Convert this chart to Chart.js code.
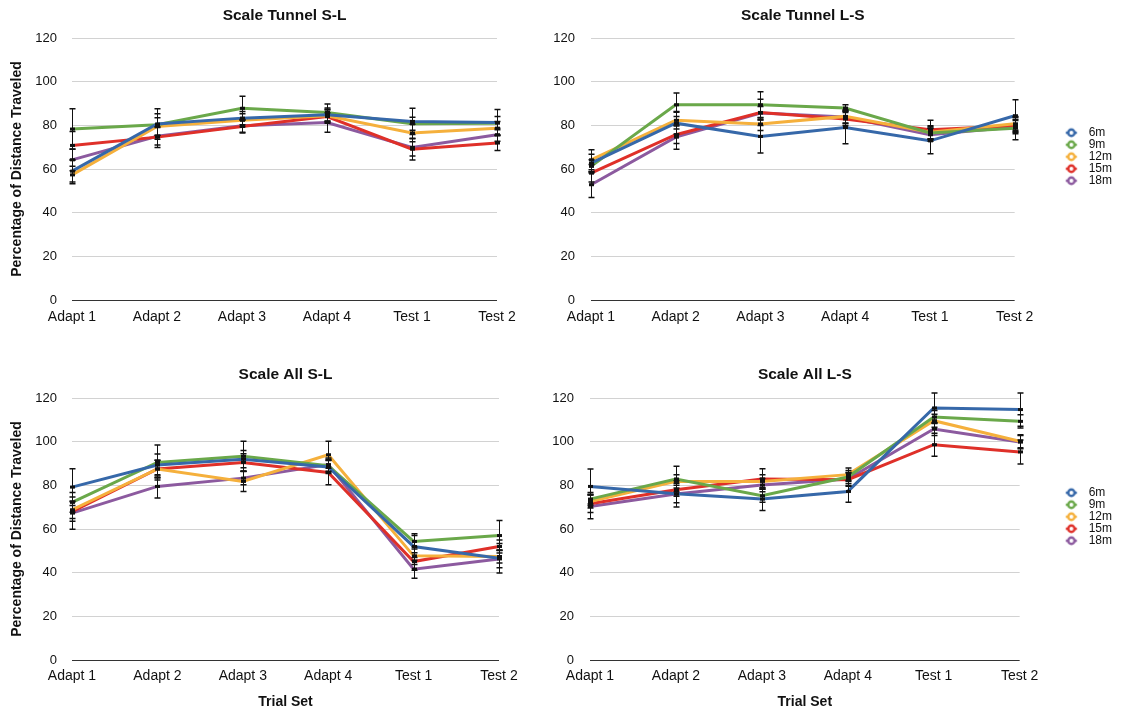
<!DOCTYPE html>
<html>
<head>
<meta charset="utf-8">
<script src="https://cdn.jsdelivr.net/npm/chart.js@4/dist/chart.umd.min.js"></script>
<style>
  html, body { margin: 0; padding: 0; background: #fff; }
  #wrap { position: relative; width: 1124px; height: 711px; overflow: hidden; background: #fff; }
  #wrap canvas { position: absolute; }
</style>
</head>
<body>
<div id="wrap">
  <canvas id="tunnelSL" width="540" height="350" style="left:0;top:0"></canvas>
  <canvas id="tunnelLS" width="584" height="350" style="left:540px;top:0"></canvas>
  <canvas id="allSL" width="540" height="361" style="left:0;top:350px"></canvas>
  <canvas id="allLS" width="584" height="361" style="left:540px;top:350px"></canvas>
</div>
<script>
// Categories and series
const trialSets = ['Adapt 1', 'Adapt 2', 'Adapt 3', 'Adapt 4', 'Test 1', 'Test 2'];
const distances = ['6m', '9m', '12m', '15m', '18m'];
const yTickValues = [0, 20, 40, 60, 80, 100, 120];
const seriesColors = ['#3668a9', '#6aa84a', '#f5b03c', '#df3029', '#8c5a9f'];

// Scale Tunnel S-L: means and error (±)
const tunnelSL_6m  = [59.0, 80.6, 83.3, 84.9, 81.8, 81.3];
const tunnelSL_9m  = [78.3, 80.3, 87.8, 85.9, 80.7, 81.0];
const tunnelSL_12m = [57.3, 79.5, 82.3, 84.4, 76.5, 78.7];
const tunnelSL_15m = [70.8, 74.6, 79.5, 84.0, 69.1, 71.9];
const tunnelSL_18m = [64.2, 75.0, 79.8, 81.3, 69.9, 75.7];
const tunnelSL_6m_err  = [5.0, 7.0, 3.0, 3.0, 6.0, 6.0];
const tunnelSL_9m_err  = [9.3, 5.0, 5.5, 3.9, 3.0, 3.0];
const tunnelSL_12m_err = [4.0, 4.0, 3.0, 3.0, 4.0, 3.0];
const tunnelSL_15m_err = [6.4, 4.7, 3.0, 3.0, 5.0, 3.4];
const tunnelSL_18m_err = [5.0, 4.0, 3.0, 4.5, 4.0, 3.0];

// Scale Tunnel L-S
const tunnelLS_6m  = [62.7, 81.0, 74.9, 79.0, 72.9, 84.4];
const tunnelLS_9m  = [61.2, 89.4, 89.4, 87.9, 76.5, 78.7];
const tunnelLS_12m = [64.2, 82.3, 80.6, 84.1, 76.8, 80.7];
const tunnelLS_15m = [58.1, 75.7, 85.9, 82.9, 78.0, 79.8];
const tunnelLS_18m = [52.8, 74.6, 85.6, 83.8, 75.7, 79.2];
const tunnelLS_6m_err  = [4.0, 5.0, 7.6, 7.4, 5.9, 7.3];
const tunnelLS_9m_err  = [3.0, 5.4, 6.0, 1.5, 3.0, 5.3];
const tunnelLS_12m_err = [4.6, 4.0, 3.0, 3.0, 3.0, 3.0];
const tunnelLS_15m_err = [4.0, 4.0, 6.0, 3.0, 4.3, 3.0];
const tunnelLS_18m_err = [5.9, 5.5, 3.0, 3.0, 3.0, 3.0];

// Scale All S-L
const allSL_6m  = [79.2, 89.3, 92.0, 88.4, 52.0, 46.6];
const allSL_9m  = [72.2, 90.5, 93.3, 89.0, 54.3, 57.0];
const allSL_12m = [68.8, 87.5, 81.8, 94.0, 47.7, 47.4];
const allSL_15m = [68.0, 87.5, 90.5, 85.9, 45.1, 52.0];
const allSL_18m = [67.3, 79.5, 83.3, 89.5, 41.6, 46.3];
const allSL_6m_err  = [8.4, 5.0, 4.0, 3.0, 5.0, 6.8];
const allSL_9m_err  = [4.5, 8.0, 6.9, 3.0, 3.5, 6.9];
const allSL_12m_err = [4.0, 4.0, 4.6, 6.2, 4.0, 3.0];
const allSL_15m_err = [4.5, 4.0, 4.0, 5.6, 4.0, 3.0];
const allSL_18m_err = [7.4, 5.3, 3.0, 3.0, 4.1, 4.0];

// Scale All L-S
const allLS_6m  = [79.5, 76.1, 73.7, 77.2, 115.4, 114.7];
const allLS_9m  = [73.7, 82.9, 75.2, 83.8, 111.3, 109.3];
const allLS_12m = [72.6, 81.8, 81.8, 84.9, 109.6, 100.2];
const allLS_15m = [71.6, 78.0, 82.9, 82.6, 98.6, 95.3];
const allLS_18m = [70.3, 76.0, 80.1, 82.9, 105.8, 99.8];
const allLS_6m_err  = [8.0, 6.0, 5.2, 5.0, 6.9, 7.6];
const allLS_9m_err  = [3.0, 5.8, 3.0, 3.0, 3.0, 3.0];
const allLS_12m_err = [3.0, 3.0, 3.0, 3.0, 3.0, 3.0];
const allLS_15m_err = [4.0, 3.0, 4.7, 3.0, 5.3, 5.5];
const allLS_18m_err = [5.6, 4.0, 3.0, 3.0, 3.0, 3.0];

const FONT = "'Liberation Sans', Arial, Helvetica, sans-serif";
const INK = '#111';

// Vertical error bars with caps and a small mark at each mean
const errorBarsPlugin = {
  id: 'errorBars',
  afterDatasetsDraw(chart) {
    const { ctx, scales: { x, y } } = chart;
    ctx.save();
    ctx.strokeStyle = INK;
    ctx.fillStyle = INK;
    chart.data.datasets.forEach(ds => {
      ds.data.forEach((v, i) => {
        const e = ds.errors[i];
        const px = Math.round(x.getPixelForValue(i)) + 0.5;
        const top = y.getPixelForValue(v + e);
        const bot = y.getPixelForValue(v - e);
        const mid = y.getPixelForValue(v);
        ctx.lineWidth = 1;
        ctx.beginPath();
        ctx.moveTo(px, top); ctx.lineTo(px, bot);
        ctx.stroke();
        ctx.lineWidth = 1.5;
        ctx.beginPath();
        ctx.moveTo(px - 3, top); ctx.lineTo(px + 3, top);
        ctx.moveTo(px - 3, bot); ctx.lineTo(px + 3, bot);
        ctx.stroke();
        ctx.fillRect(px - 2.5, mid - 1.5, 5, 3);
      });
    });
    ctx.restore();
  }
};

// Legend swatch: short line with a hollow ring, placed at ringX inside a box of width boxW
function legendMarker(color, boxW, ringX) {
  const c = document.createElement('canvas');
  c.width = boxW; c.height = 12;
  const g = c.getContext('2d');
  g.strokeStyle = color;
  g.lineWidth = 2.4;
  g.beginPath();
  g.moveTo(ringX - 5.5, 6); g.lineTo(ringX + 5.5, 6);
  g.stroke();
  g.fillStyle = '#fff';
  g.beginPath();
  g.arc(ringX, 6, 3.2, 0, Math.PI * 2);
  g.fill(); g.stroke();
  return c;
}

function buildDatasets(seriesList, errList, legendBox) {
  return seriesList.map((vals, k) => ({
    label: distances[k],
    data: vals,
    errors: errList[k],
    borderColor: seriesColors[k],
    backgroundColor: seriesColors[k],
    borderWidth: 3,
    tension: 0,
    pointRadius: 0,
    pointHoverRadius: 0,
    pointStyle: legendBox ? legendMarker(seriesColors[k], legendBox.w, legendBox.ring) : 'circle'
  }));
}

function makePanel(id, cfg) {
  const legendOpts = cfg.legend ? {
    display: true,
    position: 'right',
    align: 'start',
    title: { display: true, text: '', font: { size: 12, family: FONT }, padding: { top: cfg.legend.offset, bottom: 0 } },
    labels: {
      usePointStyle: true,
      pointStyleWidth: cfg.legend.w,
      padding: 0,
      color: INK,
      font: { size: 12, family: FONT }
    }
  } : { display: false };

  new Chart(document.getElementById(id), {
    type: 'line',
    data: {
      labels: trialSets,
      datasets: buildDatasets(cfg.series, cfg.errors, cfg.legend)
    },
    options: {
      responsive: false,
      animation: false,
      devicePixelRatio: 1,
      events: [],
      layout: { padding: { left: 0, top: 0, right: cfg.padRight, bottom: 0 } },
      plugins: {
        legend: legendOpts,
        tooltip: { enabled: false },
        title: {
          display: true,
          text: cfg.title,
          fullSize: false,
          color: INK,
          font: { size: 15.5, weight: 'bold', family: FONT },
          padding: { top: cfg.titleTop, bottom: cfg.titleBottom }
        }
      },
      scales: {
        x: {
          type: 'category',
          offset: false,
          grid: { display: false, drawTicks: false },
          border: { display: false },
          ticks: { padding: cfg.xPad, color: INK, font: { size: 14, family: FONT }, maxRotation: 0, autoSkip: false },
          title: cfg.xTitle ? {
            display: true, text: 'Trial Set', color: INK,
            font: { size: 14, weight: 'bold', family: FONT },
            padding: { top: 0, bottom: 0.6 }
          } : { display: false },
          afterFit: s => { s.height = cfg.xH; }
        },
        y: {
          min: 0,
          max: 120,
          afterBuildTicks: s => { s.ticks = yTickValues.map(v => ({ value: v })); },
          grid: {
            drawTicks: false,
            lineWidth: 1,
            color: c => (c.tick && c.tick.value === 0) ? '#333' : '#d2d2d2'
          },
          border: { display: false },
          ticks: { padding: cfg.yPad, color: INK, font: { size: 13, family: FONT } },
          title: cfg.yTitle ? {
            display: true, text: 'Percentage of Distance Traveled', color: INK,
            font: { size: 14, weight: 'bold', family: FONT },
            padding: { top: 9, bottom: 0 }
          } : { display: false },
          afterFit: s => { s.width = cfg.yW; }
        }
      }
    },
    plugins: [errorBarsPlugin]
  });
}

makePanel('tunnelSL', {
  title: 'Scale Tunnel S-L',
  series: [tunnelSL_6m, tunnelSL_9m, tunnelSL_12m, tunnelSL_15m, tunnelSL_18m],
  errors: [tunnelSL_6m_err, tunnelSL_9m_err, tunnelSL_12m_err, tunnelSL_15m_err, tunnelSL_18m_err],
  yTitle: true, xTitle: false,
  yW: 72, yPad: 15, xH: 50, xPad: 8.6,
  titleTop: 6.7, titleBottom: 12.7, padRight: 43
});

makePanel('tunnelLS', {
  title: 'Scale Tunnel L-S',
  series: [tunnelLS_6m, tunnelLS_9m, tunnelLS_12m, tunnelLS_15m, tunnelLS_18m],
  errors: [tunnelLS_6m_err, tunnelLS_9m_err, tunnelLS_12m_err, tunnelLS_15m_err, tunnelLS_18m_err],
  yTitle: false, xTitle: false,
  yW: 51, yPad: 16, xH: 50, xPad: 8.6,
  titleTop: 6.7, titleBottom: 12.7, padRight: 2,
  legend: { w: 68, ring: 56.7, offset: 112.3 }
});

makePanel('allSL', {
  title: 'Scale All S-L',
  series: [allSL_6m, allSL_9m, allSL_12m, allSL_15m, allSL_18m],
  errors: [allSL_6m_err, allSL_9m_err, allSL_12m_err, allSL_15m_err, allSL_18m_err],
  yTitle: true, xTitle: true,
  yW: 72, yPad: 15, xH: 51, xPad: 7.6,
  titleTop: 15.7, titleBottom: 13.7, padRight: 41
});

makePanel('allLS', {
  title: 'Scale All L-S',
  series: [allLS_6m, allLS_9m, allLS_12m, allLS_15m, allLS_18m],
  errors: [allLS_6m_err, allLS_9m_err, allLS_12m_err, allLS_15m_err, allLS_18m_err],
  yTitle: false, xTitle: true,
  yW: 50, yPad: 16, xH: 51, xPad: 7.6,
  titleTop: 15.7, titleBottom: 13.7, padRight: 2,
  legend: { w: 63, ring: 51.7, offset: 122.3 }
});
</script>
</body>
</html>
